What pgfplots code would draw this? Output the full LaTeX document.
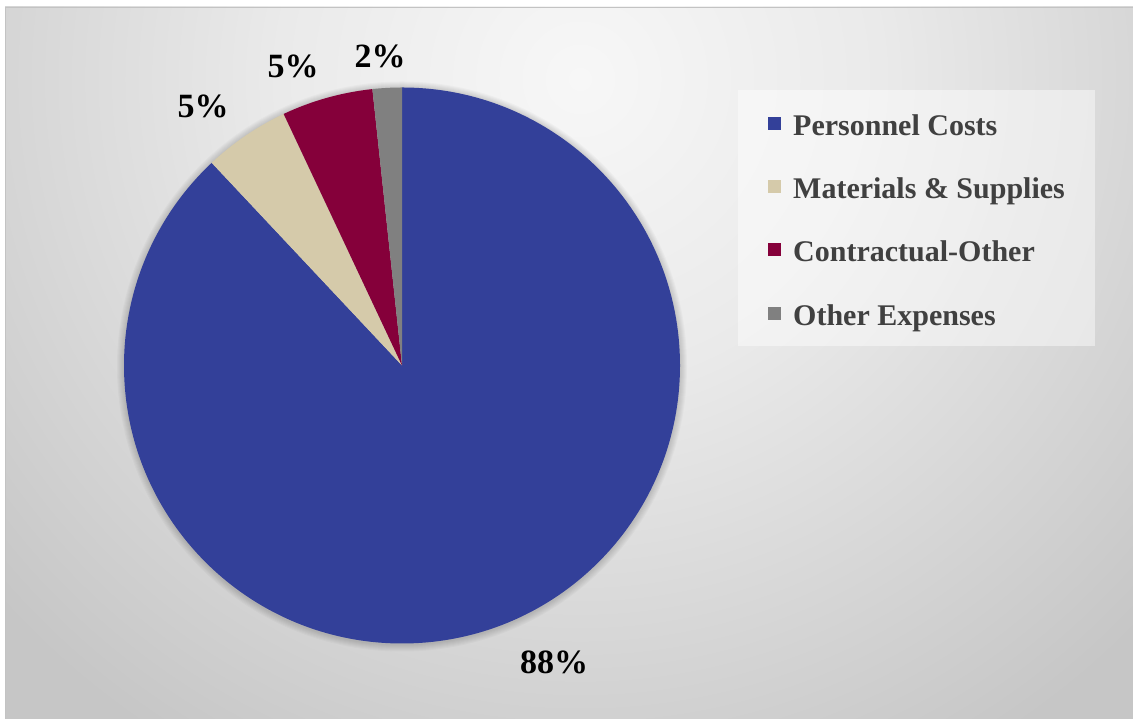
\documentclass[border=0pt]{standalone}
\usepackage{pgfplots}
\pgfplotsset{compat=1.18}
\usepackage{pgfplotstable}
\usepackage{fontspec}
\setmainfont{Liberation Serif}

\definecolor{slice0}{RGB}{51,64,153}
\definecolor{slice1}{RGB}{213,202,170}
\definecolor{slice2}{RGB}{133,0,58}
\definecolor{slice3}{RGB}{128,128,128}
\definecolor{legendtext}{RGB}{64,64,64}
\definecolor{bgin}{RGB}{247,247,247}
\definecolor{bgmid}{RGB}{234,234,234}
\definecolor{bgout}{RGB}{198,198,198}
\definecolor{frame}{RGB}{195,195,195}

\pgfdeclareradialshading{bgshade}{\pgfpointorigin}{color(0bp)=(bgin); color(300bp)=(bgmid); color(780bp)=(bgout); color(950bp)=(bgout)}

% slice values in percent, clockwise from 12 o'clock
\pgfplotstableread{
name        value
Personnel   88.0
Materials   5.0
Contractual 5.3
Other       1.7
}\piedata

\begin{document}
\begin{tikzpicture}[x=1pt,y=1pt]
\useasboundingbox (0,0) rectangle (1133,719);
\fill[white] (0,0) rectangle (1133,719);
\begin{scope}
\clip (5,0) rectangle (1133,712);
\node[inner sep=0pt] at (580,640) {\pgfuseshading{bgshade}};
\end{scope}
\draw[frame, line width=0.8pt] (5,-2) -- (5,712) -- (1135,712);

\begin{axis}[
  at={(0,0)}, anchor=south west,
  scale only axis, width=1133pt, height=719pt,
  xmin=0, xmax=1133, ymin=0, ymax=719,
  hide axis, clip=false,
  legend image code/.code={\fill[#1, fill opacity=1] (0pt,-6.5pt) rectangle (13pt,6.5pt);},
  legend cell align=left,
  legend style={at={(axis cs:738,629)}, anchor=north west,
    draw=none, fill=white, fill opacity=0.45, text opacity=1,
    inner xsep=30pt, inner ysep=8pt, row sep=13.3pt, column sep=12pt,
    font=\fontsize{30}{36}\selectfont\bfseries,
    nodes={inner sep=0pt, text height=37pt, text depth=13pt, text=legendtext}},
]
\pgfplotsextra{
  % soft shadow around the pie
  \foreach \k in {1,...,7}{
    \fill[black, fill opacity=0.025] (axis cs:402,352.5) circle[radius=278pt+\k pt];
  }
  \def\angleA{90}
  \pgfplotsforeachungrouped \i in {0,...,3}{
    \pgfplotstablegetelem{\i}{value}\of\piedata
    \pgfmathsetmacro\angleB{\angleA-3.6*\pgfplotsretval}
    \fill[slice\i] (axis cs:402,353.5) -- ++(\angleA:278pt)
      arc[start angle=\angleA, end angle=\angleB, radius=278pt] -- cycle;
    \let\angleA\angleB
  }
}
\addlegendimage{fill=slice0, draw=none}\addlegendentry{Personnel Costs}
\addlegendimage{fill=slice1, draw=none}\addlegendentry{Materials \& Supplies}
\addlegendimage{fill=slice2, draw=none}\addlegendentry{Contractual-Other}
\addlegendimage{fill=slice3, draw=none}\addlegendentry{Other Expenses}

\begin{scope}[every node/.style={font=\fontsize{34}{40}\selectfont\bfseries, text=black, inner sep=0pt}]
\node at (axis cs:554,56.5) {88\%};
\node at (axis cs:203,613) {5\%};
\node at (axis cs:293,652.5) {5\%};
\node at (axis cs:380,663) {2\%};
\end{scope}
\end{axis}
\end{tikzpicture}
\end{document}
